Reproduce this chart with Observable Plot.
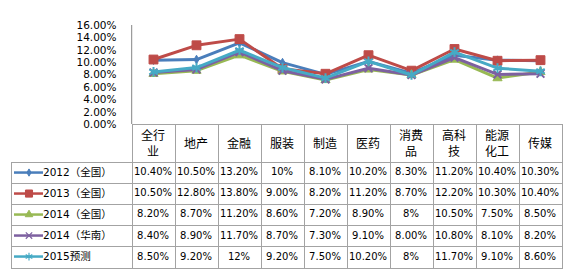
<!DOCTYPE html>
<html><head><meta charset="utf-8">
<script src="https://cdn.jsdelivr.net/npm/d3@7"></script>
<script src="https://cdn.jsdelivr.net/npm/@observablehq/plot@0.6"></script>
<style>
body{margin:0;background:#fff;}
#wrap{position:relative;width:574px;height:274px;overflow:hidden;font-family:"DejaVu Sans","Noto Sans CJK SC",sans-serif;color:#000;}
#wrap svg.plot{position:absolute;left:0;top:0;}
.cell{position:absolute;box-sizing:border-box;display:flex;align-items:center;justify-content:center;text-align:center;font-size:10px;line-height:1.25;white-space:nowrap;}
.hdr{font-family:"Noto Sans CJK SC",sans-serif;font-size:12px;line-height:1.35;}
.leg{justify-content:flex-start;font-size:10.5px;text-spacing-trim:space-all;font-feature-settings:"fwid" 1;}
.ln{position:absolute;background:#a3a3a3;}
</style></head><body><div id="wrap"></div>
<script>
const categories = ["全行业","地产","金融","服装","制造","医药","消费品","高科技","能源化工","传媒"];
const seriesNames = ["2012（全国）","2013（全国）","2014（全国）","2014（华南）","2015预测"];
const v2012  = [10.4,10.5,13.2,10.0,8.1,10.2,8.3,11.2,10.4,10.3];
const v2013  = [10.5,12.8,13.8,9.0,8.2,11.2,8.7,12.2,10.3,10.4];
const v2014  = [8.2,8.7,11.2,8.6,7.2,8.9,8.0,10.5,7.5,8.5];
const v2014s = [8.4,8.9,11.7,8.7,7.3,9.1,8.0,10.8,8.1,8.2];
const v2015  = [8.5,9.2,12.0,9.2,7.5,10.2,8.0,11.7,9.1,8.6];
const l2012  = ["10.40%","10.50%","13.20%","10%","8.10%","10.20%","8.30%","11.20%","10.40%","10.30%"];
const l2013  = ["10.50%","12.80%","13.80%","9.00%","8.20%","11.20%","8.70%","12.20%","10.30%","10.40%"];
const l2014  = ["8.20%","8.70%","11.20%","8.60%","7.20%","8.90%","8%","10.50%","7.50%","8.50%"];
const l2014s = ["8.40%","8.90%","11.70%","8.70%","7.30%","9.10%","8.00%","10.80%","8.10%","8.20%"];
const l2015  = ["8.50%","9.20%","12%","9.20%","7.50%","10.20%","8%","11.70%","9.10%","8.60%"];
const yTicks = [0,2,4,6,8,10,12,14,16];

const values = [v2012,v2013,v2014,v2014s,v2015];
const labels = [l2012,l2013,l2014,l2014s,l2015];
const colors = ["#4a7ebb","#be4b48","#98b954","#7d60a0","#46aac5"];
const symbols = ["diamond","square","triangle","times","asterisk"];
const d3symbols = [d3.symbolDiamond,d3.symbolSquare,d3.symbolTriangle,d3.symbolTimes,d3.symbolAsterisk];
const radii = [2.6,5.0,3.4,3.6,4.6];
const legRadii = [2.2,4.0,2.8,3.0,3.6];
const filled = [true,true,true,false,false];

const rows = seriesNames.flatMap((s,i)=>categories.map((c,j)=>({series:s,cat:c,value:values[i][j]})));

const marks = [
  Plot.ruleX([categories[0]], {y1:0, y2:16, dx:-21.8, stroke:"#868686", strokeWidth:1}),
  Plot.axisY({ticks:yTicks, tickSize:0, tickPadding:12, label:null, tickFormat:d=>d.toFixed(2)+"%"})
];
seriesNames.forEach((s,i)=>{
  const d = rows.filter(r=>r.series===s);
  marks.push(Plot.line(d,{x:"cat",y:"value",stroke:colors[i],strokeWidth:3}));
  marks.push(Plot.dot(d, filled[i]
    ? {x:"cat",y:"value",symbol:()=>symbols[i],r:radii[i],fill:colors[i],stroke:colors[i],strokeWidth:1}
    : {x:"cat",y:"value",symbol:()=>symbols[i],r:radii[i],fill:"none",stroke:colors[i],strokeWidth:2}));
});

const chart = Plot.plot({
  width:574, height:125, marginLeft:128, marginRight:10, marginTop:25, marginBottom:1,
  x:{type:"point", domain:categories, padding:0.5, axis:null},
  y:{domain:[0,16], axis:null, label:null},
  symbol:{type:"identity"},
  style:{background:"transparent", color:"#000", fontSize:"10.5px", fontFamily:"DejaVu Sans, sans-serif", overflow:"visible"},
  marks
});
chart.classList.add("plot");
const wrap = document.getElementById("wrap");
wrap.appendChild(chart);

// table aligned with the plot's x scale
const xs = chart.scale("x");
const step = xs.step;
const colLeft = c => xs.apply(c) - step/2;
const left0 = 11, right0 = colLeft(categories[categories.length-1]) + step;
const axisX = colLeft(categories[0]);
const hTop = 124, hBot = 162, rowH = 21.1;
const tableBot = hBot + rowH*seriesNames.length;

function line(x,y,w,h){const e=document.createElement("div");e.className="ln";Object.assign(e.style,{left:x+"px",top:y+"px",width:w+"px",height:h+"px"});wrap.appendChild(e);}
function cell(x,y,w,h,html,cls){const e=document.createElement("div");e.className="cell "+(cls||"");Object.assign(e.style,{left:x+"px",top:y+"px",width:w+"px",height:h+"px"});e.innerHTML=html;wrap.appendChild(e);return e;}

// header
categories.forEach(c=>{
  const parts = c.match(/.{1,2}/g);
  cell(colLeft(c), hTop, step, hBot-hTop, parts.join("<br>"), "hdr");
});
// body
seriesNames.forEach((s,i)=>{
  const y = hBot + rowH*i;
  cell(left0+32, y, 128-left0-32, rowH, s, "leg");
  const svg = d3.create("svg").attr("width",30).attr("height",rowH)
    .style("position","absolute").style("left",(left0+3)+"px").style("top",y+"px");
  svg.append("line").attr("x1",0).attr("x2",29).attr("y1",rowH/2).attr("y2",rowH/2).attr("stroke",colors[i]).attr("stroke-width",2.5);
  svg.append("path").attr("transform",`translate(15,${rowH/2})`)
    .attr("d",d3.symbol(d3symbols[i], Math.PI*legRadii[i]*legRadii[i])())
    .attr("fill",filled[i]?colors[i]:"none").attr("stroke",colors[i]).attr("stroke-width",filled[i]?1:1.2);
  wrap.appendChild(svg.node());
  categories.forEach((c,j)=>cell(colLeft(c), y, step, rowH, labels[i][j]));
});
// grid lines
line(axisX, hTop, right0-axisX+1, 1);
for(let i=0;i<=seriesNames.length;i++) line(left0, hBot+rowH*i, right0-left0+1, 1);
line(left0, hBot, 1, tableBot-hBot+1);
categories.forEach(c=>line(colLeft(c), hTop, 1, tableBot-hTop+1));
line(right0, hTop, 1, tableBot-hTop+1);
</script></body></html>
